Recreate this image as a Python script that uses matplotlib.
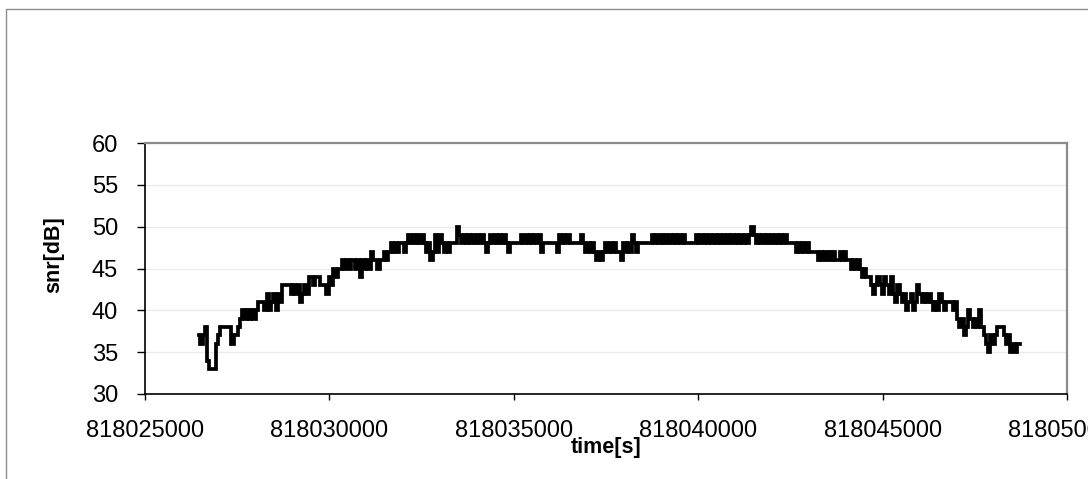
import matplotlib
matplotlib.use("Agg")
import matplotlib.pyplot as plt
import numpy as np
from matplotlib.lines import Line2D

plt.rcParams["font.family"] = ["Liberation Sans", "DejaVu Sans"]

# snr readings, one every 60 s starting at t_start
t_start = 818026470
t_step = 60
snr_db = [
    37, 36, 37, 38, 34, 33, 33, 33, 36, 37, 38, 38, 38, 38, 38, 36, 37, 37, 38, 39,
    40, 39, 40, 39, 40, 39, 40, 41, 41, 41, 40, 42, 40, 41, 42, 40, 42, 41, 43, 43,
    43, 43, 42, 43, 42, 43, 41, 42, 43, 42, 44, 44, 43, 44, 44, 43, 43, 43, 42, 44,
    43, 45, 44, 45, 45, 46, 45, 46, 45, 46, 46, 45, 46, 44, 46, 45, 46, 45, 47, 46,
    46, 45, 46, 46, 47, 46, 47, 48, 47, 48, 47, 48, 48, 47, 48, 49, 48, 49, 48, 49,
    48, 49, 48, 47, 48, 46, 47, 49, 47, 49, 48, 47, 48, 47, 48, 48, 48, 50, 49, 48,
    49, 48, 49, 48, 49, 48, 49, 48, 49, 48, 47, 48, 49, 48, 49, 48, 49, 48, 49, 48,
    47, 48, 48, 48, 48, 48, 49, 48, 49, 48, 49, 48, 49, 48, 49, 47, 48, 48, 48, 48,
    48, 48, 47, 49, 48, 49, 48, 49, 48, 48, 48, 48, 48, 49, 48, 47, 48, 47, 48, 47,
    46, 47, 46, 47, 48, 47, 48, 47, 48, 47, 47, 46, 48, 47, 48, 47, 49, 48, 47, 48,
    48, 48, 48, 48, 48, 49, 48, 49, 48, 49, 48, 49, 48, 49, 48, 49, 48, 49, 48, 49,
    48, 48, 48, 48, 48, 49, 48, 49, 48, 49, 48, 49, 48, 49, 48, 49, 48, 49, 48, 49,
    48, 49, 48, 49, 48, 49, 48, 49, 48, 49, 50, 49, 48, 49, 48, 49, 48, 49, 48, 49,
    48, 49, 48, 49, 48, 49, 48, 48, 48, 48, 47, 48, 47, 48, 47, 48, 47, 47, 47, 47,
    46, 47, 46, 47, 46, 47, 46, 47, 46, 46, 47, 46, 47, 46, 46, 45, 46, 45, 46, 45,
    44, 45, 44, 44, 43, 42, 43, 44, 43, 42, 44, 43, 42, 44, 42, 41, 43, 42, 41, 42,
    40, 41, 42, 40, 41, 43, 42, 41, 42, 41, 42, 41, 40, 41, 40, 42, 41, 40, 41, 41,
    41, 40, 41, 39, 38, 39, 37, 38, 40, 39, 38, 39, 38, 40, 38, 37, 36, 35, 37, 36,
    37, 38, 38, 38, 37, 36, 37, 35, 36, 35, 36, 36,
]
time_s = t_start + t_step * np.arange(len(snr_db))

x_ticks = [818025000, 818030000, 818035000, 818040000, 818045000, 818050000]
y_ticks = [30, 35, 40, 45, 50, 55, 60]

fig = plt.figure(figsize=(10.88, 4.79), dpi=100)
ax = fig.add_axes([145 / 1088, 1 - 394 / 479, 922 / 1088, 251 / 479])

ax.plot(time_s, snr_db, color="black", linewidth=2.7, drawstyle="steps-mid",
        solid_joinstyle="miter")

ax.set_xlim(x_ticks[0], x_ticks[-1])
ax.set_ylim(y_ticks[0], y_ticks[-1])
ax.set_xticks(x_ticks)
ax.set_xticklabels([str(v) for v in x_ticks])
ax.set_yticks(y_ticks)

ax.grid(axis="y", color="#ebebeb", linewidth=1)
ax.set_axisbelow(True)

ax.tick_params(axis="y", direction="out", length=6, width=1, pad=13.5, labelsize=17)
ax.tick_params(axis="x", direction="out", length=4.5, width=1, pad=14.5, labelsize=17)

for side in ["left", "bottom"]:
    ax.spines[side].set_color("black")
    ax.spines[side].set_linewidth(1.2)
for side in ["top", "right"]:
    ax.spines[side].set_color("#8c8c8c")
    ax.spines[side].set_linewidth(1.6)

ax.set_ylabel("snr[dB]", fontsize=15.5, fontweight="bold", va="center")
ax.yaxis.set_label_coords(-0.0987, 0.554)
ax.set_xlabel("time[s]", fontsize=15.5, fontweight="bold", va="center")
ax.xaxis.set_label_coords(0.5, -0.213)

# outer chart frame (only left and top edges are inside the picture)
fx = 5.5 / 1088
fy = 1 - 8.5 / 479
fig.add_artist(Line2D([fx, fx, 1.0], [0.0, fy, fy], transform=fig.transFigure,
                      color="#8c8c8c", linewidth=1.0))

fig.savefig("out.png", dpi=100)
